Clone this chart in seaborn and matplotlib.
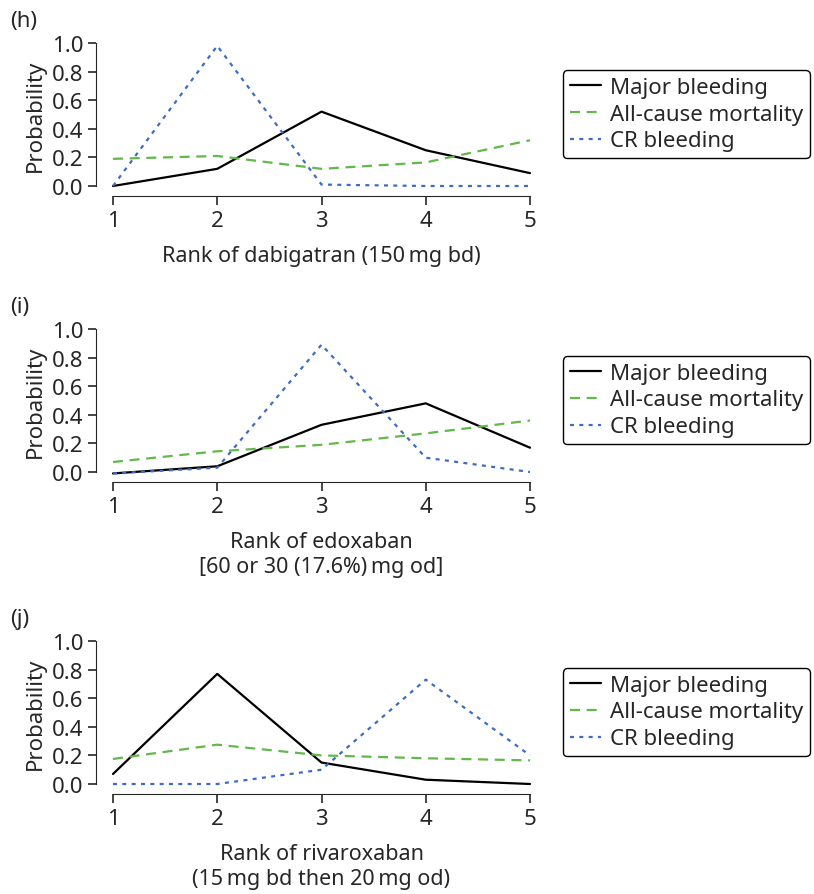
import matplotlib
matplotlib.use("Agg")
import matplotlib.pyplot as plt
import seaborn as sns
import pandas as pd

ranks = [1, 2, 3, 4, 5]
outcomes = ["Major bleeding", "All-cause mortality", "CR bleeding"]

# (h) dabigatran
dabi_major = [0.00, 0.12, 0.52, 0.25, 0.09]
dabi_mort = [0.19, 0.21, 0.12, 0.165, 0.32]
dabi_cr = [0.00, 0.98, 0.01, 0.00, 0.00]

# (i) edoxaban
edox_major = [-0.01, 0.04, 0.33, 0.48, 0.17]
edox_mort = [0.07, 0.145, 0.19, 0.27, 0.36]
edox_cr = [-0.01, 0.03, 0.89, 0.10, 0.00]

# (j) rivaroxaban
riva_major = [0.07, 0.77, 0.15, 0.03, 0.00]
riva_mort = [0.175, 0.275, 0.20, 0.18, 0.165]
riva_cr = [0.00, 0.00, 0.10, 0.73, 0.20]

panel_tags = ["(h)", "(i)", "(j)"]
xlabels = [
    "Rank of dabigatran (150\u2009mg bd)",
    "Rank of edoxaban\n[60 or 30 (17.6%)\u2009mg od]",
    "Rank of rivaroxaban\n(15\u2009mg bd then 20\u2009mg od)",
]
panel_values = [
    (dabi_major, dabi_mort, dabi_cr),
    (edox_major, edox_mort, edox_cr),
    (riva_major, riva_mort, riva_cr),
]

sns.set_style("ticks")
plt.rcParams["font.family"] = ["Noto Sans", "DejaVu Sans"]
plt.rcParams["font.size"] = 16

colors = {"Major bleeding": "black", "All-cause mortality": "#62b84a", "CR bleeding": "#3d6cc4"}
styles = {"Major bleeding": "-", "All-cause mortality": (0, (4.5, 3)), "CR bleeding": (0, (1.8, 2.4))}

W, H = 814, 895
fig = plt.figure(figsize=(W / 100, H / 100), dpi=100)

# pixel positions: (y of prob=1, y of prob=0)
panel_px = [(44, 187), (330, 473), (642, 785)]
x_left, x_right = 113, 530

for i, (tag, xlab, vals) in enumerate(zip(panel_tags, xlabels, panel_values)):
    y1, y0 = panel_px[i]
    ax = fig.add_axes([x_left / W, (H - y0) / H, (x_right - x_left) / W, (y0 - y1) / H])
    df = pd.DataFrame({
        "rank": ranks * 3,
        "prob": list(vals[0]) + list(vals[1]) + list(vals[2]),
        "outcome": [o for o in outcomes for _ in ranks],
    })
    for name in outcomes:
        sub = df[df["outcome"] == name]
        sns.lineplot(data=sub, x="rank", y="prob", ax=ax, color=colors[name],
                     linestyle=styles[name], linewidth=1.6, label=name, clip_on=False)

    ax.set_xlim(1, 5)
    ax.set_ylim(0, 1)
    ax.set_xticks(ranks)
    ax.set_yticks([0, 0.2, 0.4, 0.6, 0.8, 1.0])
    ax.set_yticklabels(["0.0", "0.2", "0.4", "0.6", "0.8", "1.0"])
    for s in ["top", "right"]:
        ax.spines[s].set_visible(False)
    ax.spines["left"].set_position(("outward", 12))
    ax.spines["bottom"].set_position(("outward", 7))
    ax.spines["left"].set_bounds(0, 1)
    ax.spines["bottom"].set_bounds(1, 5)
    ax.tick_params(axis="y", length=5.5, width=1.2, labelsize=16, pad=4)
    ax.tick_params(axis="x", length=6.5, width=1.2, labelsize=16, pad=4)
    ax.set_xlabel(xlab, fontsize=15.5, linespacing=1.25, labelpad=10)
    ax.set_ylabel("Probability", fontsize=16, labelpad=4)

    ax.legend(loc="center left", bbox_to_anchor=(563 / W, (H - (y0 - 72)) / H),
              bbox_transform=fig.transFigure, frameon=True, fancybox=True,
              edgecolor="black", framealpha=1, fontsize=16, handlelength=1.4,
              handletextpad=0.4, borderpad=0.3, labelspacing=0.26, borderaxespad=0)
    ax.get_legend().get_frame().set_linewidth(1.0)

    fig.text(10 / W, (H - (y1 - 22)) / H, tag, fontsize=16, va="center", ha="left")

fig.savefig("out.png", dpi=100)
